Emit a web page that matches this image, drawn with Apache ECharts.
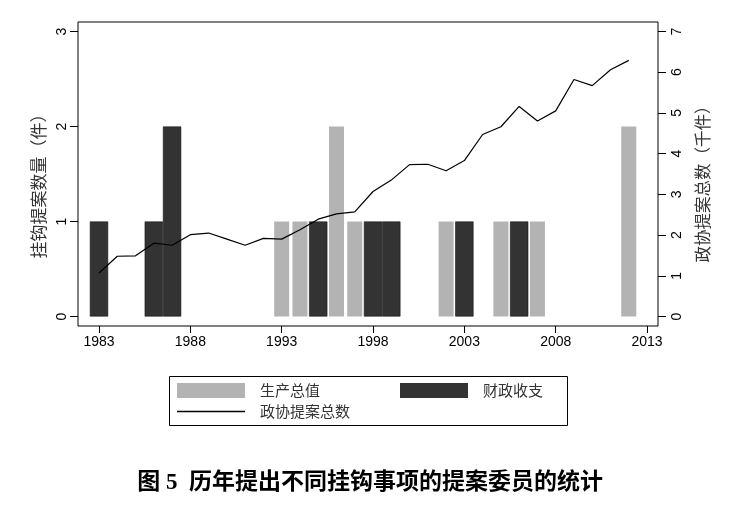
<!DOCTYPE html>
<html>
<head>
<meta charset="utf-8">
<script src="https://cdn.jsdelivr.net/npm/echarts@6/dist/echarts.min.js"></script>
<style>
  html, body { margin: 0; padding: 0; background: #fff; }
  #chart { width: 740px; height: 510px; }
</style>
</head>
<body>
<div id="chart"></div>
<script>
// 刻度
var yearTicks = [1983, 1988, 1993, 1998, 2003, 2008, 2013];
var leftTicks = [0, 1, 2, 3];
var rightTicks = [0, 1, 2, 3, 4, 5, 6, 7];

// 生产总值（件）
var gdpYears = [1993, 1994, 1996, 1997, 2002, 2005, 2007, 2012];
var gdpCounts = [1, 1, 2, 1, 1, 1, 1, 2];

// 财政收支（件）
var finYears = [1983, 1986, 1987, 1995, 1998, 1999, 2003, 2006];
var finCounts = [1, 1, 2, 1, 1, 1, 1, 1];

// 政协提案总数（千件）
var totalYears = [1983, 1984, 1985, 1986, 1987, 1988, 1989, 1990, 1991, 1992,
  1993, 1994, 1995, 1996, 1997, 1998, 1999, 2000, 2001, 2002,
  2003, 2004, 2005, 2006, 2007, 2008, 2009, 2010, 2011, 2012];
var totalCounts = [1.07, 1.48, 1.49, 1.80, 1.75, 2.01, 2.05, 1.90, 1.75, 1.92,
  1.90, 2.13, 2.39, 2.52, 2.57, 3.07, 3.35, 3.73, 3.74, 3.58,
  3.83, 4.47, 4.66, 5.16, 4.80, 5.05, 5.82, 5.67, 6.06, 6.29];

function pairs(xs, ys) {
  return xs.map(function (x, i) { return [x, ys[i]]; });
}

var cjk = "'Noto Sans CJK SC'";
var numFont = "'Liberation Sans', Arial";
var xMin = 1981.85, xMax = 2013.6;

var chart = echarts.init(document.getElementById("chart"));

var legendText = { fontSize: 15, color: "#333", fontFamily: cjk, padding: [0, 0, 0, 10] };

var option = {
  animation: false,
  backgroundColor: "#fff",
  title: {
    text: "图 5  历年提出不同挂钩事项的提案委员的统计",
    left: "center",
    top: 467,
    textStyle: {
      fontSize: 23,
      fontWeight: "bold",
      color: "#000",
      fontFamily: "'Liberation Serif', 'Noto Sans CJK SC'"
    }
  },
  grid: {
    left: 78,
    right: 82,
    top: 22,
    bottom: 184,
    show: true,
    borderColor: "#000",
    borderWidth: 1
  },
  legend: [
    {
      data: ["生产总值"],
      left: 177, top: 383, padding: 0,
      icon: "rect", itemWidth: 68, itemHeight: 15,
      selectedMode: false,
      itemStyle: { borderWidth: 0 },
      textStyle: legendText
    },
    {
      data: ["财政收支"],
      left: 400, top: 383, padding: 0,
      icon: "rect", itemWidth: 68, itemHeight: 15,
      selectedMode: false,
      itemStyle: { borderWidth: 0 },
      textStyle: legendText
    },
    {
      data: ["政协提案总数"],
      left: 177, top: 404, padding: 0,
      icon: "rect", itemWidth: 68, itemHeight: 1.4,
      selectedMode: false,
      itemStyle: { color: "#000", borderWidth: 0 },
      textStyle: legendText
    }
  ],
  graphic: [
    {
      type: "rect",
      shape: { x: 169.5, y: 376.5, width: 398, height: 49 },
      style: { fill: "none", stroke: "#000", lineWidth: 1 }
    }
  ],
  xAxis: [
    {
      type: "value",
      min: xMin,
      max: xMax,
      axisLine: { show: false, onZero: false },
      splitLine: { show: false },
      axisTick: { show: true, length: 7, lineStyle: { color: "#000" }, customValues: yearTicks },
      axisLabel: {
        customValues: yearTicks,
        formatter: function (v) { return String(v); },
        fontSize: 14, color: "#000", fontFamily: numFont, margin: 9
      }
    },
    {
      type: "value",
      min: xMin,
      max: xMax,
      show: false
    }
  ],
  yAxis: [
    {
      type: "value",
      position: "left",
      min: -0.1,
      max: 3.1,
      name: "挂钩提案数量（件）",
      nameLocation: "middle",
      nameGap: 25,
      nameTextStyle: { fontSize: 17, color: "#333", fontFamily: cjk, padding: [0, 16, 0, 0] },
      axisLine: { show: false, onZero: false },
      splitLine: { show: false },
      axisTick: { show: true, length: 8, lineStyle: { color: "#000" }, customValues: leftTicks },
      axisLabel: {
        customValues: leftTicks, rotate: 90,
        fontSize: 14, color: "#000", fontFamily: numFont, margin: 9
      }
    },
    {
      type: "value",
      position: "right",
      min: -0.2333,
      max: 7.2333,
      name: "政协提案总数（千件）",
      nameLocation: "middle",
      nameRotate: 90,
      nameGap: 36,
      nameTextStyle: { fontSize: 16.5, color: "#333", fontFamily: cjk, padding: [0, 12, 0, 0] },
      axisLine: { show: false, onZero: false },
      splitLine: { show: false },
      axisTick: { show: true, length: 8, lineStyle: { color: "#000" }, customValues: rightTicks },
      axisLabel: {
        customValues: rightTicks, rotate: 90,
        fontSize: 14, color: "#000", fontFamily: numFont, margin: 12
      }
    }
  ],
  series: [
    {
      name: "生产总值",
      type: "bar",
      xAxisIndex: 0,
      yAxisIndex: 0,
      barWidth: 15,
      itemStyle: { color: "#b3b3b3" },
      data: pairs(gdpYears, gdpCounts)
    },
    {
      name: "财政收支",
      type: "bar",
      xAxisIndex: 1,
      yAxisIndex: 0,
      barWidth: 18.3,
      itemStyle: { color: "#333333", borderColor: "#1a1a1a", borderWidth: 0.6 },
      data: pairs(finYears, finCounts)
    },
    {
      name: "政协提案总数",
      type: "line",
      xAxisIndex: 0,
      yAxisIndex: 1,
      symbol: "none",
      z: 5,
      lineStyle: { color: "#000", width: 1.2 },
      itemStyle: { color: "#000" },
      data: pairs(totalYears, totalCounts)
    }
  ]
};

chart.setOption(option);
</script>
</body>
</html>
